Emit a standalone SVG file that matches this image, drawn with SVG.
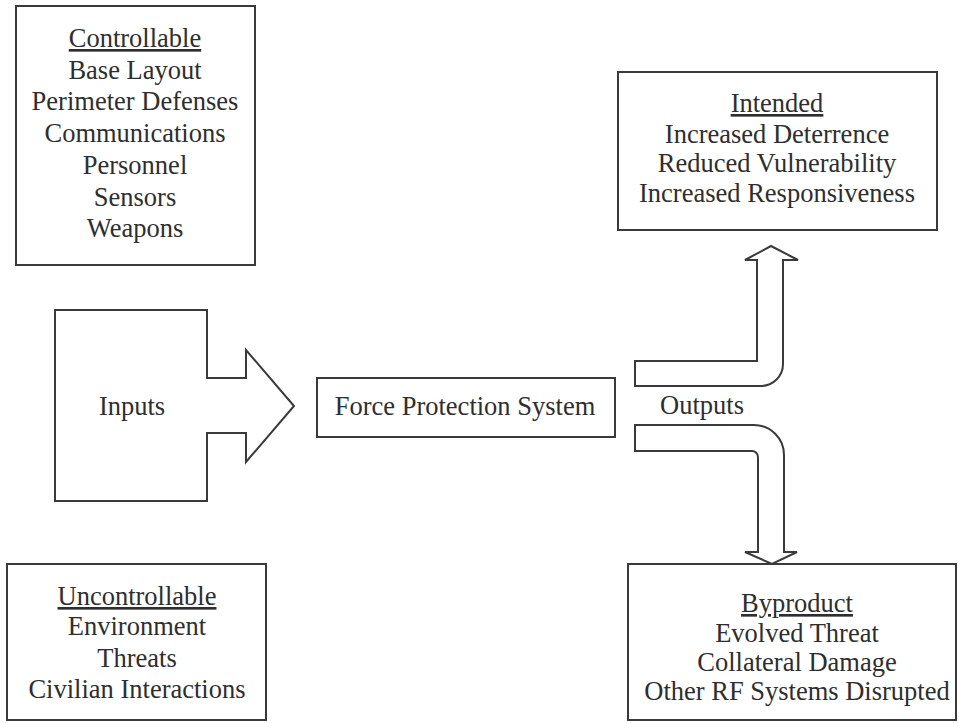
<svg xmlns="http://www.w3.org/2000/svg" width="959" height="723" viewBox="0 0 959 723" font-family="Liberation Serif, Times New Roman, serif">
<style>
.box{fill:#fff;stroke:#3a3a3a;stroke-width:2}
.shape{fill:#fff;stroke:#3a3a3a;stroke-width:2;stroke-linejoin:miter}
text{font-size:26.5px;fill:#2e2e2e;text-anchor:middle}
.u{text-decoration:underline}
</style>
<rect width="959" height="723" fill="#fff"/>
<g id="controllable">
<rect class="box" x="16" y="6" width="239" height="259"/>
<text x="135" y="47" class="u">Controllable</text>
<text x="135" y="79">Base Layout</text>
<text x="135" y="110">Perimeter Defenses</text>
<text x="135" y="142">Communications</text>
<text x="135" y="174">Personnel</text>
<text x="135" y="206">Sensors</text>
<text x="135" y="237">Weapons</text>
</g>
<g id="inputs">
<path class="shape" d="M55,310 L207,310 L207,378 L246,378 L246,350 L294,406 L246,462 L246,433 L207,433 L207,501 L55,501 Z"/>
<text x="132" y="415">Inputs</text>
</g>
<g id="force-protection-system">
<rect class="box" x="317" y="378" width="298" height="59"/>
<text x="465" y="415">Force Protection System</text>
</g>
<g id="connectors">
<path id="arrow-intended" class="shape" d="M635,361 L757,361 L757,260 L745,260 L771,246 L798,260 L783,260 L783,364 A22,22 0 0 1 761,386 L635,386 Z"/>
<path id="arrow-byproduct" class="shape" d="M635,425 L754,425 A30,30 0 0 1 784,455 L784,552 L797,552 L772,564 L745,552 L758,552 L758,457 A6,6 0 0 0 752,451 L635,451 Z"/>
<text x="702" y="414">Outputs</text>
</g>
<g id="intended">
<rect class="box" x="618" y="72" width="319" height="158"/>
<text x="777" y="112" class="u">Intended</text>
<text x="777" y="143">Increased Deterrence</text>
<text x="777" y="172">Reduced Vulnerability</text>
<text x="777" y="202">Increased Responsiveness</text>
</g>
<g id="byproduct">
<rect class="box" x="628" y="564" width="328" height="156"/>
<text x="797" y="612" class="u">Byproduct</text>
<text x="797" y="642">Evolved Threat</text>
<text x="797" y="671">Collateral Damage</text>
<text x="797" y="700">Other RF Systems Disrupted</text>
</g>
<g id="uncontrollable">
<rect class="box" x="7" y="564" width="259" height="156"/>
<text x="137" y="605" class="u">Uncontrollable</text>
<text x="137" y="635">Environment</text>
<text x="137" y="667">Threats</text>
<text x="137" y="698">Civilian Interactions</text>
</g>
</svg>
